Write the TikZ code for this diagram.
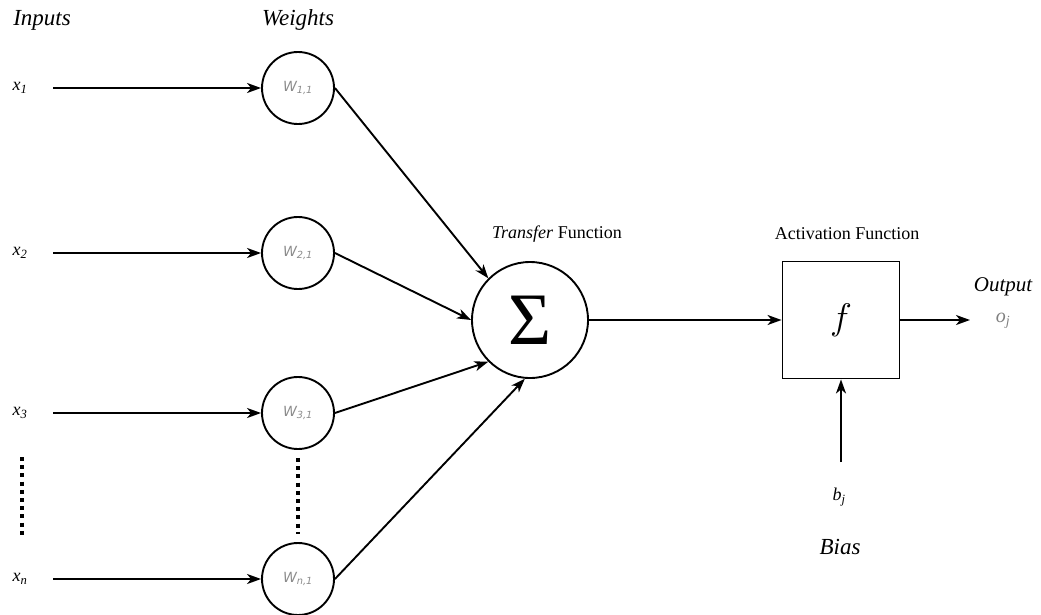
\RequirePackage{fix-cm}
\documentclass[tikz,border=0pt]{standalone}
\usepackage{fontspec}
\setmainfont{Liberation Serif}
\newfontfamily\wtfont{DejaVu Sans}
\usetikzlibrary{arrows.meta}

\begin{document}
\begin{tikzpicture}[
  x=1pt, y=-1pt,
  wnode/.style={circle, draw, line width=1.9pt, minimum size=72pt, inner sep=0pt, text=gray!90, font=\fontsize{14}{14}\selectfont\wtfont\itshape},
  lbl/.style={font=\fontsize{18}{18}\selectfont\itshape},
  head/.style={font=\fontsize{23}{23}\selectfont\itshape},
  arr/.style={-{Stealth[length=14pt, width=10pt, inset=4pt]}, line width=1.9pt},
  vdots/.style={line width=4pt, dash pattern=on 4pt off 4.2pt},
]
  \useasboundingbox (0,0) rectangle (1041,614);

  % Headings
  \node[head] (hin) at (42,20) {Inputs};
  \node[head] (hwt) at (298,20) {Weights};

  % Inputs and weights
  \node[lbl] (x1) at (20,88) {x\textsubscript{1}};
  \node[lbl] (x2) at (20,253) {x\textsubscript{2}};
  \node[lbl] (x3) at (20,413) {x\textsubscript{3}};
  \node[lbl] (xn) at (20,579) {x\textsubscript{n}};
  \coordinate (s1) at (53,88);
  \coordinate (s2) at (53,253);
  \coordinate (s3) at (53,413);
  \coordinate (sn) at (53,579);
  \node[wnode] (w1) at (298,88) {W\textsubscript{1,1}};
  \node[wnode] (w2) at (298,253) {W\textsubscript{2,1}};
  \node[wnode] (w3) at (298,413) {W\textsubscript{3,1}};
  \node[wnode] (wn) at (298,579) {W\textsubscript{n,1}};

  % Sum, activation, output
  \node[circle, draw, line width=1.9pt, minimum size=116pt, inner sep=0pt, font=\fontsize{74}{74}\selectfont] (sum) at (530,320) {Σ};
  \node[draw, line width=1.9pt, minimum size=117pt, inner sep=0pt, font=\fontsize{37}{37}\selectfont] (act) at (841,320) {$f$};
  \node[font=\fontsize{18}{18}\selectfont] (tfn) at (557,234) {\textit{Transfer} Function};
  \node[font=\fontsize{18}{18}\selectfont] (afn) at (847,234) {Activation Function};
  \node[head, font=\fontsize{21}{21}\selectfont\itshape] (outl) at (1003,287) {Output};
  \node[lbl, text=gray, font=\fontsize{20}{20}\selectfont\itshape] (oj) at (1003,321) {o\textsubscript{j}};
  \coordinate (oe) at (970,320);
  \node[lbl] (bj) at (839,497) {b\textsubscript{j}};
  \node[head] (bias) at (840,547) {Bias};
  \coordinate (bs) at (841,462);

  % Connections
  \draw[arr] (s1) -- (w1);
  \draw[arr] (s2) -- (w2);
  \draw[arr] (s3) -- (w3);
  \draw[arr] (sn) -- (wn);
  \draw[arr] (w1.east) -- (sum.135);
  \draw[arr] (w2.east) -- (sum.west);
  \draw[arr] (w3.east) -- (sum.225);
  \draw[arr] (wn.east) -- (sum.265);
  \draw[arr] (sum) -- (act);
  \draw[arr] (act) -- (oe);
  \draw[arr] (bs) -- (act);

  % Ellipsis dots
  \coordinate (d1) at (22,457);
  \coordinate (d2) at (22,535);
  \draw[vdots] (d1) -- (d2);
  \draw[vdots] ([yshift=-8pt]w3.south) -- ([yshift=8pt]wn.north);
\end{tikzpicture}
\end{document}
